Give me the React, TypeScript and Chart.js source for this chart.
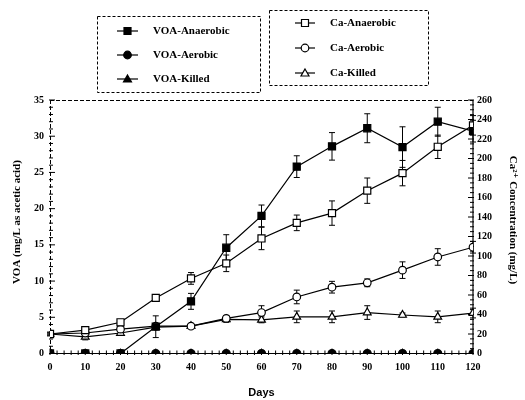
import React, { useEffect, useRef } from "react";
import { Chart, registerables } from "chart.js";
Chart.register(...registerables);

const days = [0, 10, 20, 30, 40, 50, 60, 70, 80, 90, 100, 110, 120];
const voaAnaerobic = [0, 0, 0, 3.7, 7.2, 14.6, 19.0, 25.8, 28.6, 31.1, 28.5, 32.0, 30.7];
const voaAnaerobicErr = [0, 0, 0, 1.5, 1.1, 1.8, 1.5, 1.5, 1.9, 2.0, 2.8, 2.0, 1.5];
const voaAerobic = [0, 0, 0, 0, 0, 0, 0, 0, 0, 0, 0, 0, 0];
const voaKilled = [0, 0, 0, 0, 0, 0, 0, 0, 0, 0, 0, 0, 0];
const caAnaerobic = [20, 24, 32, 57, 77, 92.5, 118, 134, 144, 167, 185, 212, 234];
const caAnaerobicErr = [2, 2, 2, 3, 6, 8.5, 11.5, 8, 12.5, 13, 13, 12, 10];
const caAerobic = [20, 21, 25, 28, 28, 36, 42, 58, 68, 72.5, 85.5, 99, 109];
const caAerobicErr = [1, 1, 1, 2, 2, 3, 7, 7, 6, 4, 8.5, 8.5, 6];
const caKilled = [20, 17, 21, 27, 28, 35, 34.5, 37.6, 37.6, 42, 39.5, 37.6, 41.5];
const caKilledErr = [1, 3, 2, 2, 2, 3, 3, 6, 6, 7, 2, 6, 5];

const labels = ["VOA-Anaerobic", "VOA-Aerobic", "VOA-Killed", "Ca-Anaerobic", "Ca-Aerobic", "Ca-Killed"];
const xTitle = "Days";
const yTitle = "VOA (mg/L as acetic acid)";
const y2Title = "Ca\u00B2\u207A Concentration (mg/L)";

const SERIF = "'Liberation Serif', 'DejaVu Serif', serif";

function drawMarker(ctx: CanvasRenderingContext2D, style: string, filled: boolean, x: number, y: number) {
  ctx.save();
  ctx.beginPath();
  if (style === "rect") {
    ctx.rect(x - 3.5, y - 3.5, 7, 7);
  } else if (style === "circle") {
    ctx.arc(x, y, 3.8, 0, Math.PI * 2);
  } else {
    ctx.moveTo(x, y - 4);
    ctx.lineTo(x + 4, y + 3);
    ctx.lineTo(x - 4, y + 3);
    ctx.closePath();
  }
  ctx.fillStyle = filled ? "#000" : "#fff";
  ctx.fill();
  ctx.lineWidth = 1.2;
  ctx.strokeStyle = "#000";
  ctx.stroke();
  ctx.restore();
}

const legendPlugin = {
  id: "customLegend",
  afterDraw(chart: any) {
    const ctx = chart.ctx as CanvasRenderingContext2D;
    const ds = chart.data.datasets;
    ctx.save();
    ctx.setLineDash([3, 2]);
    ctx.lineWidth = 1;
    ctx.strokeStyle = "#000";
    ctx.strokeRect(97.5, 16.5, 163, 76);
    ctx.strokeRect(269.5, 10.5, 159, 75);
    ctx.setLineDash([]);
    ctx.font = "bold 11px " + SERIF;
    ctx.fillStyle = "#000";
    ctx.textBaseline = "middle";
    const boxes = [
      { idx: [0, 1, 2], ys: [31, 55, 79], x0: 117, x1: 138, tx: 153 },
      { idx: [3, 4, 5], ys: [23, 48, 73], x0: 295, x1: 315, tx: 330 },
    ];
    boxes.forEach((b) => {
      b.idx.forEach((di, k) => {
        const d = ds[di];
        const y = b.ys[k];
        ctx.beginPath();
        ctx.moveTo(b.x0, y);
        ctx.lineTo(b.x1, y);
        ctx.lineWidth = 1.2;
        ctx.stroke();
        drawMarker(ctx, d.pointStyle, d.pointBackgroundColor === "#000", (b.x0 + b.x1) / 2, y);
        ctx.fillText(d.label, b.tx, y);
      });
    });
    ctx.restore();
  },
};

const errorBarPlugin = {
  id: "errorBars",
  beforeDatasetsDraw(chart: any) {
    const ctx = chart.ctx as CanvasRenderingContext2D;
    ctx.save();
    ctx.strokeStyle = "#000";
    ctx.lineWidth = 1;
    chart.data.datasets.forEach((d: any, i: number) => {
      if (!d.errors) return;
      const meta = chart.getDatasetMeta(i);
      const scale = chart.scales[d.yAxisID];
      meta.data.forEach((pt: any, j: number) => {
        const e = d.errors[j];
        if (!e) return;
        const v = d.data[j];
        const yt = scale.getPixelForValue(v + e);
        const yb = scale.getPixelForValue(v - e);
        const x = pt.x;
        ctx.beginPath();
        ctx.moveTo(x, yt);
        ctx.lineTo(x, yb);
        ctx.moveTo(x - 3, yt);
        ctx.lineTo(x + 3, yt);
        ctx.moveTo(x - 3, yb);
        ctx.lineTo(x + 3, yb);
        ctx.stroke();
      });
    });
    ctx.restore();
  },
};

const framePlugin = {
  id: "frame",
  beforeDatasetsDraw(chart: any) {
    const ctx = chart.ctx as CanvasRenderingContext2D;
    const a = chart.chartArea;
    const xs = chart.scales.x;
    const ys = chart.scales.y;
    const y2s = chart.scales.y2;
    ctx.save();
    ctx.strokeStyle = "#000";
    ctx.lineWidth = 1;
    ctx.setLineDash([4, 2]);
    ctx.beginPath();
    ctx.moveTo(a.left, a.top + 0.5);
    ctx.lineTo(a.right, a.top + 0.5);
    ctx.moveTo(a.left + 0.5, a.top);
    ctx.lineTo(a.left + 0.5, a.bottom);
    ctx.stroke();
    ctx.setLineDash([]);
    ctx.lineWidth = 1.2;
    ctx.beginPath();
    ctx.moveTo(a.left, a.bottom);
    ctx.lineTo(a.right, a.bottom);
    ctx.moveTo(a.right, a.top);
    ctx.lineTo(a.right, a.bottom);
    ctx.stroke();
    ctx.lineWidth = 1;
    ctx.beginPath();
    for (let v = 0; v <= 120; v += 2) {
      const x = xs.getPixelForValue(v);
      const len = v % 10 === 0 ? 5 : 3;
      ctx.moveTo(x, a.bottom + 1.5);
      ctx.lineTo(x, a.bottom - len);
    }
    for (let v = 0; v <= 35; v += 1) {
      const y = ys.getPixelForValue(v);
      const len = v % 5 === 0 ? 5 : 3;
      ctx.moveTo(a.left - 1, y);
      ctx.lineTo(a.left + len, y);
    }
    for (let v = 0; v <= 260; v += 5) {
      const y = y2s.getPixelForValue(v);
      const len = v % 20 === 0 ? 5 : 3;
      ctx.moveTo(a.right + 1, y);
      ctx.lineTo(a.right - len, y);
    }
    ctx.stroke();
    ctx.fillStyle = "#000";
    ctx.textAlign = "center";
    ctx.textBaseline = "middle";
    ctx.font = "bold 11px 'Liberation Sans', Arial, sans-serif";
    ctx.fillText(xTitle, (a.left + a.right) / 2, 393);
    ctx.font = "bold 11px " + SERIF;
    ctx.save();
    ctx.translate(17, 222);
    ctx.rotate(-Math.PI / 2);
    ctx.fillText(yTitle, 0, 0);
    ctx.restore();
    ctx.save();
    ctx.translate(513, 220);
    ctx.rotate(Math.PI / 2);
    ctx.fillText(y2Title, 0, 0);
    ctx.restore();
    ctx.restore();
  },
};

function ds(label: string, data: number[], axis: string, style: string, filled: boolean, radius: number, order: number, errors?: number[]) {
  return {
    label,
    data: data.slice(),
    errors: errors ? errors : null,
    yAxisID: axis,
    borderColor: "#000",
    borderWidth: 1.2,
    pointStyle: style,
    pointRadius: radius,
    pointBackgroundColor: filled ? "#000" : "#fff",
    pointBorderColor: "#000",
    pointBorderWidth: 1.2,
    fill: false,
    tension: 0,
    order,
  };
}

export default function App() {
  const ref = useRef<HTMLCanvasElement | null>(null);
  useEffect(() => {
    if (!ref.current) return;
    const datasets: any[] = [
      ds(labels[0], voaAnaerobic, "y", "rect", true, 5, 1, voaAnaerobicErr),
      ds(labels[1], voaAerobic, "y", "circle", true, 4, 0),
      ds(labels[2], voaKilled, "y", "triangle", true, 3, 5),
      ds(labels[3], caAnaerobic, "y2", "rect", false, 5, 2, caAnaerobicErr),
      ds(labels[4], caAerobic, "y2", "circle", false, 3.8, 3, caAerobicErr),
      ds(labels[5], caKilled, "y2", "triangle", false, 4.5, 4, caKilledErr),
    ];
    const chart = new Chart(ref.current, {
      type: "line",
      data: { labels: days, datasets },
      options: {
        animation: false,
        responsive: false,
        layout: { padding: { top: 100, left: 0, right: 0, bottom: 0 } },
        plugins: { legend: { display: false }, tooltip: { enabled: false }, title: { display: false } },
        scales: {
          x: {
            type: "linear",
            min: 0,
            max: 120,
            grid: { display: false, drawTicks: false },
            border: { display: false },
            ticks: { stepSize: 10, padding: 8, color: "#000", font: { family: SERIF, weight: "bold", size: 10 }, maxRotation: 0 },
            afterFit: (s: any) => { s.height = 46.5; },
          },
          y: {
            type: "linear",
            position: "left",
            min: 0,
            max: 35,
            grid: { display: false, drawTicks: false },
            border: { display: false },
            ticks: { stepSize: 5, padding: 6, color: "#000", font: { family: SERIF, weight: "bold", size: 10 } },
            afterFit: (s: any) => { s.width = 50; },
          },
          y2: {
            type: "linear",
            position: "right",
            min: 0,
            max: 260,
            grid: { display: false, drawTicks: false },
            border: { display: false },
            ticks: { stepSize: 20, padding: 4, color: "#000", font: { family: SERIF, weight: "bold", size: 10 } },
            afterFit: (s: any) => { s.width = 52; },
          },
        },
      } as any,
      plugins: [framePlugin, errorBarPlugin, legendPlugin],
    });
    return () => chart.destroy();
  }, []);
  return (
    <div style={{ position: "fixed", left: 0, top: 0, width: 525, height: 400, background: "#fff" }}>
      <canvas ref={ref} width={525} height={400} style={{ display: "block" }} />
    </div>
  );
}
